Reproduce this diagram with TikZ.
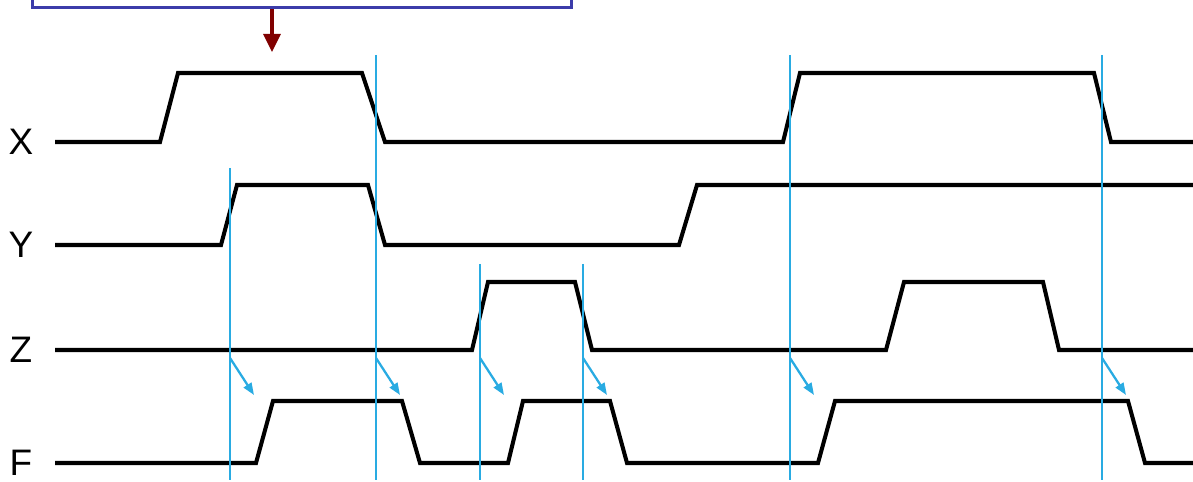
\documentclass[tikz,border=0pt]{standalone}
\usepackage{fontspec}
\setmainfont{Liberation Sans}
\usepackage{xcolor}
\usetikzlibrary{positioning, arrows.meta}

\definecolor{edgeblue}{HTML}{29ABE2}
\definecolor{noteblue}{HTML}{3C3CAA}
\definecolor{notered}{HTML}{800000}

\begin{document}
\begin{tikzpicture}[
 x=0.02cm, y=-0.02cm,
 signame/.style={font=\fontsize{21}{25}\selectfont, inner sep=0pt},
 wave/.style={line width=2.3pt, draw=black, line join=miter},
 clockline/.style={line width=1.3pt, draw=edgeblue},
 delay/.style={-{Triangle[length=0.24cm, width=0.18cm]}, line width=1.3pt, draw=edgeblue},
 notebox/.style={rectangle, draw=noteblue, line width=1.5pt,
   minimum width=10.78cm, minimum height=1.2cm, anchor=south west},
 notearrow/.style={-{Triangle[length=0.36cm, width=0.34cm]}, line width=1.8pt, draw=notered}
]
\clip (0,0) rectangle (1193,482);
% annotation box, cut by the top edge
\node[notebox] (note) at (31,9) {};
\coordinate (pointer) at (272,52);
\draw[notearrow] (note.south -| pointer) -- (pointer);
% signal names
\node[signame] (sx) at (21,142) {X};
\node[signame] (sy) at (21,245) {Y};
\node[signame] (sz) at (21,350) {Z};
\node[signame] (sf) at (21,463) {F};
% waveforms
\draw[wave] (55,142) -- (160,142) -- (178,73) -- (362,73) -- (385,142) -- (783,142)
  -- (800,73) -- (1094,73) -- (1111,142) -- (1193,142);
\draw[wave] (55,245) -- (221,245) -- (237,185) -- (368,185) -- (385,245) -- (679,245)
  -- (697,185) -- (1193,185);
\draw[wave] (55,350) -- (472,350) -- (488,282) -- (575,282) -- (592,350) -- (886,350)
  -- (904,282) -- (1043,282) -- (1059,350) -- (1193,350);
\draw[wave] (55,463) -- (256,463) -- (273,401) -- (402,401) -- (420,463) -- (508,463)
  -- (523,401) -- (610,401) -- (627,463) -- (818,463) -- (835,401) -- (1128,401)
  -- (1145,463) -- (1193,463);
% input edges and the delayed response of F
\foreach \ex/\top in {230/168, 376/55, 480/264, 583/264, 790/55, 1102/55} {
  \draw[clockline] (\ex,\top) -- (\ex,480);
  \draw[delay] (\ex,358) -- ++(24,37);
}
\end{tikzpicture}
\end{document}
